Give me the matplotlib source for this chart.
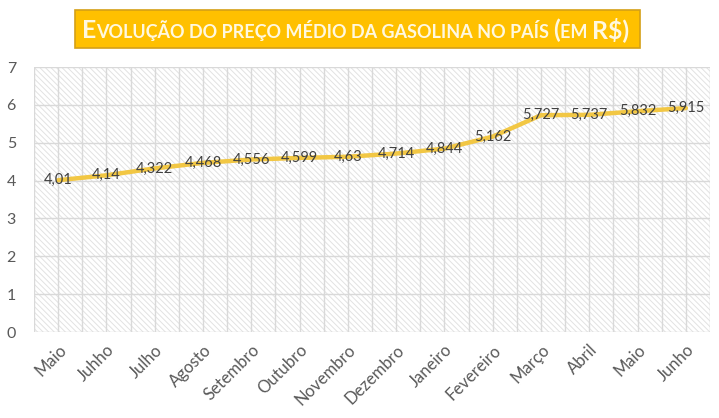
import matplotlib.pyplot as plt
from matplotlib.patches import Rectangle

# dados
meses = ["Maio", "Juhho", "Julho", "Agosto", "Setembro", "Outubro", "Novembro",
         "Dezembro", "Janeiro", "Fevereiro", "Março", "Abril", "Maio", "Junho"]
precos = [4.01, 4.14, 4.322, 4.468, 4.556, 4.599, 4.63,
          4.714, 4.844, 5.162, 5.727, 5.737, 5.832, 5.915]
y_ticks = [0, 1, 2, 3, 4, 5, 6, 7]

# titulo em versalete: (texto, maiuscula?)
titulo = [("E", True), ("VOLUÇÃO DO PREÇO MÉDIO DA GASOLINA NO PAÍS ", False),
          ("(", True), ("EM ", False), ("R$)", True)]

FONTE = "Lato"
CINZA = "#595959"
GRADE = "#d9d9d9"
AMARELO = "#f2c744"

plt.rcParams["font.family"] = [FONTE, "DejaVu Sans"]
plt.rcParams["hatch.linewidth"] = 0.7

fig = plt.figure(figsize=(7.19, 4.18), dpi=100)
ax = fig.add_axes([0.0473, 0.2057, 0.9402, 0.634])

n = len(meses)
x = list(range(n))
ax.set_xlim(-0.5, n - 0.5)
ax.set_ylim(0, 7)

# fundo hachurado
ax.add_patch(Rectangle((0, 0), 1, 1, transform=ax.transAxes, facecolor="white",
                       edgecolor="#e2e2e2", lw=0, hatch="\\" * 6, zorder=0))

# grade
for gx in [i * 0.5 - 0.5 for i in range(2 * n + 1)]:
    ax.axvline(gx, color=GRADE, lw=1, zorder=1)
for gy in y_ticks:
    ax.axhline(gy, color=GRADE, lw=1, zorder=1)

ax.plot(x, precos, color=AMARELO, lw=3.2, solid_joinstyle="round",
        solid_capstyle="round", zorder=3)

for xi, v in zip(x, precos):
    ax.text(xi, v, f"{v:g}".replace(".", ","), ha="center", va="center",
            fontsize=10.5, color="#404040", zorder=4)

for s in ax.spines.values():
    s.set_visible(False)
ax.set_yticks(y_ticks)
ax.set_yticklabels([str(t) for t in y_ticks], fontsize=11.5, color=CINZA)
ax.set_xticks(x)
ax.set_xticklabels(meses, rotation=45, ha="right", rotation_mode="anchor",
                   fontsize=12, color=CINZA)
ax.tick_params(length=0, pad=7)
ax.tick_params(axis="y", pad=13)

# caixa do titulo
fig.patches.append(Rectangle((75 / 719, 1 - 48 / 418), 565 / 719, 38 / 418,
                             transform=fig.transFigure, facecolor="#ffc000",
                             edgecolor="#d4a017", lw=1.2))
fig.canvas.draw()
rend = fig.canvas.get_renderer()
px = 82
for txt, maior in titulo:
    t = fig.text(px / 719, 1 - 38 / 418, txt, fontsize=17.8 if maior else 13.0,
                 color="#fff8e0", fontweight="bold", va="baseline", zorder=5)
    px = t.get_window_extent(rend).x1

fig.savefig("out.png", dpi=100)
